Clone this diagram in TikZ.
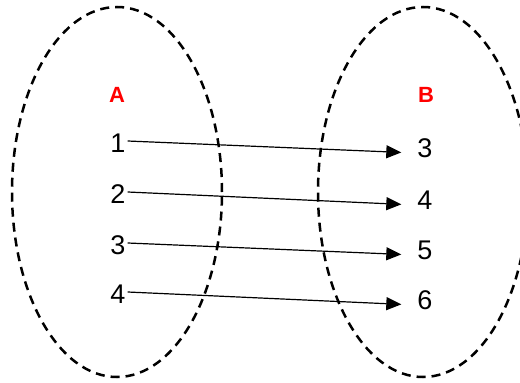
\documentclass[tikz,border=0pt]{standalone}
\usepackage{fontspec}
\setmainfont{Liberation Sans}
\usetikzlibrary{arrows.meta,shapes.geometric}

\begin{document}
\begin{tikzpicture}[
    x=1pt, y=-1pt,
    set/.style={ellipse, draw=black, line width=2.5pt, dash pattern=on 9pt off 6pt, minimum width=210pt, minimum height=370pt, inner sep=0pt},
    setlabel/.style={text=red, inner sep=0pt, font=\bfseries\fontsize{22}{22}\selectfont},
    elem/.style={inner sep=2pt, font=\fontsize{27}{27}\selectfont},
    arrow/.style={-{Triangle[length=15pt, width=13pt]}, line width=1.2pt, shorten >=14pt}
]
\clip (0,0) rectangle (520,383);
\node[set] (setA) at (117,192) {};
\node[set] (setB) at (423,192) {};

\node[setlabel] (labelA) at (117,95) {A};
\node[setlabel] (labelB) at (426,95) {B};

% domain
\node[elem] (a1) at (118,143) {1};
\node[elem] (a2) at (118,194) {2};
\node[elem] (a3) at (118,245) {3};
\node[elem] (a4) at (118,294) {4};

% codomain
\node[elem] (b1) at (425,148) {3};
\node[elem] (b2) at (425,200) {4};
\node[elem] (b3) at (425,250) {5};
\node[elem] (b4) at (425,300) {6};

\draw[arrow] ([yshift=2pt]a1.east) -- ([yshift=-5pt]b1.west);
\draw[arrow] ([yshift=2pt]a2.east) -- ([yshift=-5pt]b2.west);
\draw[arrow] ([yshift=2pt]a3.east) -- ([yshift=-5pt]b3.west);
\draw[arrow] ([yshift=2pt]a4.east) -- ([yshift=-5pt]b4.west);
\end{tikzpicture}
\end{document}
